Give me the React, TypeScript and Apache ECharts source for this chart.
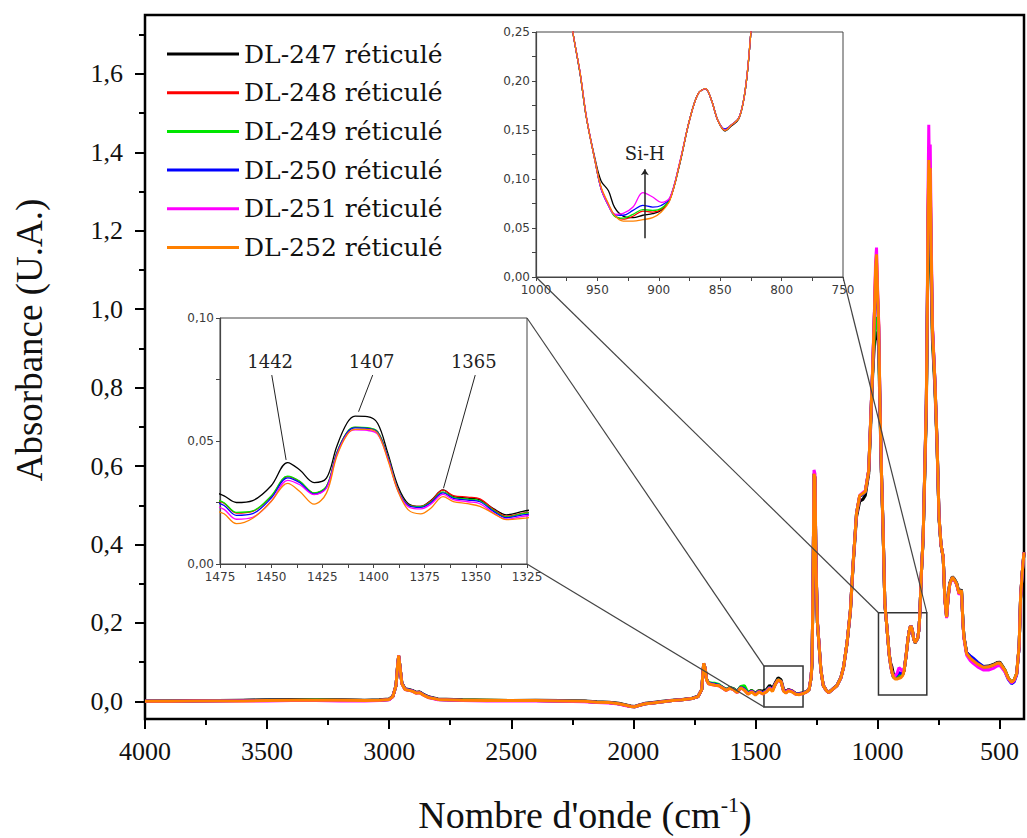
import React, { useEffect, useRef } from 'react';
import * as echarts from 'echarts';

const SERIES_NAMES = ['DL-247 réticulé', 'DL-248 réticulé', 'DL-249 réticulé', 'DL-250 réticulé', 'DL-251 réticulé', 'DL-252 réticulé'];
const SERIES_COLORS = ['#000000', '#ff0000', '#00e600', '#0000ff', '#ff00ff', '#ff8000'];

// Main spectrum wavenumbers (cm-1)
const MAIN_X = [4000, 3900, 3800, 3700, 3600, 3500, 3400, 3300, 3200, 3100,
  3040, 3000, 2985, 2972, 2965, 2961, 2956, 2948, 2935, 2920,
  2905, 2890, 2875, 2860, 2840, 2800, 2700, 2600, 2500, 2400,
  2300, 2200, 2150, 2100, 2060, 2030, 2010, 1995, 1975, 1950,
  1920, 1880, 1840, 1800, 1760, 1735, 1720, 1712, 1706, 1700,
  1692, 1680, 1665, 1650, 1635, 1620, 1605, 1590, 1575, 1560,
  1545, 1530, 1515, 1500, 1485, 1470, 1455, 1442, 1430, 1418,
  1407, 1395, 1385, 1375, 1365, 1350, 1335, 1320, 1305, 1290,
  1280, 1272, 1268, 1264, 1260, 1256, 1252, 1246, 1240, 1232,
  1222, 1210, 1200, 1185, 1166, 1150, 1139, 1125, 1111, 1100,
  1086, 1073, 1060, 1050, 1036, 1028, 1020, 1012, 1008, 1004,
  1000, 995, 990, 984, 977, 970, 964, 958, 952, 946,
  941, 935, 928, 920, 912, 904, 897, 891, 883, 875,
  868, 862, 857, 852, 846, 841, 835, 831, 828, 825,
  820, 813, 806, 800, 796, 793, 790, 787, 784, 780,
  775, 765, 756, 748, 740, 731, 724, 717, 710, 704,
  693, 685, 676, 666, 656, 650, 646, 635, 620, 608,
  590, 567, 545, 526, 510, 499, 490, 478, 465, 451,
  440, 430, 420, 414, 407, 400];

const MAIN_DL247 = [0.001, 0.001, 0.002, 0.002, 0.003, 0.004, 0.005, 0.005, 0.004, 0.003,
  0.004, 0.006, 0.013, 0.040, 0.093, 0.115, 0.090, 0.047, 0.032, 0.030,
  0.028, 0.023, 0.024, 0.018, 0.012, 0.006, 0.004, 0.003, 0.002, 0.003,
  0.002, 0.001, -0.001, -0.002, -0.005, -0.009, -0.012, -0.013, -0.009, -0.005,
  -0.003, 0.000, 0.003, 0.005, 0.008, 0.013, 0.030, 0.095, 0.084, 0.055,
  0.046, 0.044, 0.042, 0.041, 0.036, 0.030, 0.035, 0.032, 0.025, 0.037,
  0.031, 0.022, 0.028, 0.021, 0.028, 0.026, 0.030, 0.041, 0.033, 0.048,
  0.060, 0.055, 0.031, 0.024, 0.030, 0.026, 0.020, 0.020, 0.022, 0.025,
  0.031, 0.060, 0.100, 0.295, 0.575, 0.560, 0.345, 0.200, 0.150, 0.080,
  0.041, 0.029, 0.023, 0.031, 0.041, 0.061, 0.087, 0.146, 0.228, 0.345,
  0.470, 0.510, 0.515, 0.525, 0.580, 0.700, 0.830, 0.920, 0.940, 0.940,
  0.930, 0.900, 0.740, 0.580, 0.430, 0.250, 0.207, 0.163, 0.121, 0.097,
  0.088, 0.070, 0.062, 0.0605, 0.063, 0.0646, 0.068, 0.079, 0.115, 0.160,
  0.187, 0.192, 0.180, 0.160, 0.149, 0.154, 0.161, 0.180, 0.207, 0.250,
  0.330, 0.415, 0.590, 0.740, 0.980, 1.150, 1.250, 1.200, 1.240, 1.080,
  0.920, 0.800, 0.650, 0.465, 0.398, 0.366, 0.262, 0.218, 0.272, 0.302,
  0.318, 0.312, 0.302, 0.278, 0.285, 0.202, 0.166, 0.125, 0.113, 0.106,
  0.097, 0.089, 0.090, 0.094, 0.099, 0.100, 0.092, 0.080, 0.060, 0.048,
  0.054, 0.070, 0.138, 0.262, 0.328, 0.378];

const MAIN_DL248 = [0.000, 0.001, 0.001, 0.002, 0.002, 0.003, 0.003, 0.004, 0.003, 0.002,
  0.003, 0.005, 0.012, 0.040, 0.094, 0.116, 0.090, 0.046, 0.031, 0.029,
  0.027, 0.022, 0.023, 0.017, 0.011, 0.005, 0.003, 0.003, 0.002, 0.002,
  0.001, 0.000, -0.002, -0.003, -0.006, -0.010, -0.013, -0.014, -0.010, -0.006,
  -0.004, -0.001, 0.002, 0.004, 0.007, 0.012, 0.030, 0.096, 0.085, 0.056,
  0.046, 0.044, 0.043, 0.041, 0.035, 0.029, 0.034, 0.031, 0.024, 0.037,
  0.031, 0.020, 0.026, 0.019, 0.027, 0.022, 0.027, 0.035, 0.029, 0.045,
  0.055, 0.051, 0.028, 0.023, 0.030, 0.027, 0.020, 0.019, 0.021, 0.025,
  0.030, 0.060, 0.100, 0.300, 0.580, 0.570, 0.350, 0.200, 0.150, 0.080,
  0.040, 0.028, 0.022, 0.030, 0.040, 0.060, 0.087, 0.148, 0.232, 0.350,
  0.479, 0.523, 0.528, 0.534, 0.588, 0.716, 0.843, 1.000, 1.090, 1.120,
  1.040, 0.955, 0.760, 0.588, 0.436, 0.250, 0.207, 0.163, 0.119, 0.092,
  0.075, 0.062, 0.059, 0.062, 0.0673, 0.0663, 0.069, 0.079, 0.116, 0.160,
  0.187, 0.192, 0.180, 0.160, 0.150, 0.155, 0.162, 0.180, 0.207, 0.250,
  0.330, 0.418, 0.600, 0.760, 1.000, 1.240, 1.360, 1.290, 1.340, 1.140,
  0.950, 0.818, 0.657, 0.470, 0.400, 0.368, 0.260, 0.215, 0.270, 0.300,
  0.317, 0.310, 0.300, 0.275, 0.283, 0.200, 0.164, 0.122, 0.110, 0.104,
  0.095, 0.087, 0.088, 0.092, 0.097, 0.098, 0.090, 0.079, 0.060, 0.049,
  0.055, 0.071, 0.140, 0.266, 0.330, 0.380];

const MAIN_DL249 = [0.000, 0.001, 0.001, 0.002, 0.002, 0.003, 0.003, 0.004, 0.003, 0.002,
  0.003, 0.005, 0.012, 0.040, 0.094, 0.116, 0.090, 0.046, 0.031, 0.029,
  0.027, 0.022, 0.023, 0.017, 0.011, 0.005, 0.003, 0.003, 0.002, 0.002,
  0.001, 0.000, -0.002, -0.003, -0.006, -0.010, -0.013, -0.014, -0.010, -0.006,
  -0.004, -0.001, 0.002, 0.004, 0.007, 0.012, 0.030, 0.096, 0.086, 0.057,
  0.048, 0.047, 0.046, 0.043, 0.036, 0.030, 0.035, 0.032, 0.025, 0.038,
  0.040, 0.022, 0.027, 0.019, 0.027, 0.022, 0.027, 0.036, 0.029, 0.045,
  0.0555, 0.051, 0.028, 0.023, 0.029, 0.026, 0.020, 0.019, 0.021, 0.025,
  0.030, 0.060, 0.100, 0.300, 0.580, 0.570, 0.350, 0.200, 0.150, 0.080,
  0.040, 0.028, 0.022, 0.030, 0.040, 0.060, 0.087, 0.148, 0.232, 0.350,
  0.479, 0.523, 0.528, 0.534, 0.588, 0.716, 0.843, 0.950, 0.970, 0.980,
  0.950, 0.920, 0.750, 0.588, 0.436, 0.250, 0.207, 0.163, 0.119, 0.092,
  0.075, 0.062, 0.060, 0.064, 0.0687, 0.068, 0.070, 0.080, 0.116, 0.160,
  0.187, 0.192, 0.180, 0.160, 0.150, 0.155, 0.162, 0.180, 0.207, 0.250,
  0.330, 0.418, 0.600, 0.760, 0.990, 1.200, 1.320, 1.270, 1.300, 1.120,
  0.940, 0.815, 0.657, 0.470, 0.400, 0.368, 0.260, 0.215, 0.270, 0.300,
  0.317, 0.310, 0.300, 0.275, 0.283, 0.200, 0.164, 0.122, 0.110, 0.104,
  0.095, 0.087, 0.088, 0.092, 0.097, 0.098, 0.090, 0.079, 0.060, 0.049,
  0.055, 0.071, 0.140, 0.266, 0.330, 0.380];

const MAIN_DL250 = [0.000, 0.000, 0.001, 0.001, 0.002, 0.003, 0.003, 0.003, 0.003, 0.002,
  0.003, 0.005, 0.012, 0.040, 0.094, 0.116, 0.090, 0.046, 0.031, 0.029,
  0.027, 0.022, 0.023, 0.017, 0.011, 0.005, 0.003, 0.002, 0.002, 0.002,
  0.001, 0.000, -0.002, -0.003, -0.006, -0.010, -0.013, -0.014, -0.010, -0.006,
  -0.004, -0.001, 0.002, 0.004, 0.007, 0.012, 0.030, 0.096, 0.085, 0.056,
  0.046, 0.045, 0.043, 0.041, 0.035, 0.029, 0.034, 0.031, 0.024, 0.036,
  0.031, 0.020, 0.026, 0.018, 0.026, 0.021, 0.026, 0.035, 0.028, 0.045,
  0.055, 0.050, 0.028, 0.023, 0.029, 0.026, 0.019, 0.019, 0.021, 0.025,
  0.030, 0.060, 0.100, 0.300, 0.580, 0.570, 0.350, 0.200, 0.150, 0.080,
  0.040, 0.028, 0.022, 0.030, 0.040, 0.060, 0.087, 0.148, 0.232, 0.350,
  0.479, 0.523, 0.528, 0.534, 0.588, 0.716, 0.843, 1.000, 1.070, 1.100,
  1.030, 0.950, 0.760, 0.588, 0.436, 0.250, 0.207, 0.163, 0.119, 0.092,
  0.075, 0.064, 0.063, 0.068, 0.0731, 0.0714, 0.073, 0.080, 0.116, 0.160,
  0.187, 0.192, 0.180, 0.160, 0.151, 0.155, 0.162, 0.180, 0.207, 0.250,
  0.330, 0.418, 0.600, 0.760, 1.000, 1.230, 1.340, 1.280, 1.320, 1.130,
  0.950, 0.818, 0.657, 0.470, 0.400, 0.368, 0.260, 0.215, 0.270, 0.300,
  0.317, 0.310, 0.300, 0.275, 0.283, 0.200, 0.164, 0.124, 0.116, 0.110,
  0.100, 0.089, 0.088, 0.092, 0.097, 0.098, 0.089, 0.076, 0.057, 0.045,
  0.050, 0.068, 0.138, 0.264, 0.330, 0.380];

const MAIN_DL251 = [0.000, 0.000, 0.001, 0.001, 0.001, 0.001, 0.002, 0.002, 0.001, 0.001,
  0.002, 0.004, 0.012, 0.040, 0.094, 0.117, 0.090, 0.045, 0.030, 0.028,
  0.026, 0.021, 0.022, 0.016, 0.010, 0.004, 0.002, 0.001, 0.001, 0.001,
  0.000, -0.001, -0.003, -0.004, -0.007, -0.011, -0.013, -0.014, -0.010, -0.006,
  -0.004, -0.001, 0.002, 0.004, 0.007, 0.012, 0.030, 0.096, 0.085, 0.055,
  0.045, 0.043, 0.041, 0.040, 0.034, 0.028, 0.033, 0.030, 0.022, 0.034,
  0.029, 0.019, 0.025, 0.017, 0.025, 0.019, 0.025, 0.034, 0.028, 0.044,
  0.054, 0.050, 0.027, 0.022, 0.028, 0.025, 0.018, 0.018, 0.020, 0.024,
  0.031, 0.062, 0.105, 0.310, 0.590, 0.580, 0.360, 0.205, 0.152, 0.080,
  0.040, 0.028, 0.022, 0.030, 0.040, 0.060, 0.087, 0.148, 0.232, 0.350,
  0.479, 0.525, 0.532, 0.537, 0.590, 0.720, 0.850, 1.010, 1.120, 1.157,
  1.060, 0.965, 0.765, 0.590, 0.438, 0.250, 0.207, 0.163, 0.119, 0.092,
  0.073, 0.064, 0.065, 0.0714, 0.086, 0.0816, 0.0762, 0.081, 0.117, 0.160,
  0.187, 0.192, 0.180, 0.160, 0.150, 0.155, 0.162, 0.180, 0.207, 0.250,
  0.330, 0.420, 0.605, 0.770, 1.020, 1.300, 1.470, 1.330, 1.420, 1.180,
  0.960, 0.820, 0.657, 0.470, 0.400, 0.368, 0.258, 0.212, 0.268, 0.298,
  0.315, 0.308, 0.298, 0.272, 0.280, 0.196, 0.160, 0.118, 0.104, 0.097,
  0.088, 0.080, 0.080, 0.084, 0.090, 0.092, 0.085, 0.075, 0.058, 0.047,
  0.053, 0.069, 0.140, 0.266, 0.330, 0.380];

const MAIN_DL252 = [0.000, 0.000, 0.001, 0.001, 0.001, 0.002, 0.003, 0.003, 0.003, 0.002,
  0.003, 0.005, 0.012, 0.040, 0.095, 0.117, 0.090, 0.045, 0.030, 0.028,
  0.026, 0.021, 0.022, 0.016, 0.010, 0.005, 0.003, 0.002, 0.002, 0.002,
  0.001, 0.000, -0.002, -0.003, -0.006, -0.010, -0.013, -0.014, -0.010, -0.006,
  -0.004, -0.001, 0.002, 0.004, 0.007, 0.012, 0.030, 0.097, 0.085, 0.055,
  0.045, 0.043, 0.041, 0.040, 0.034, 0.028, 0.033, 0.030, 0.022, 0.035,
  0.028, 0.018, 0.024, 0.016, 0.024, 0.019, 0.024, 0.033, 0.025, 0.044,
  0.055, 0.050, 0.026, 0.021, 0.027, 0.024, 0.018, 0.017, 0.020, 0.024,
  0.030, 0.060, 0.100, 0.300, 0.580, 0.570, 0.350, 0.200, 0.150, 0.080,
  0.040, 0.028, 0.022, 0.030, 0.040, 0.060, 0.087, 0.148, 0.232, 0.350,
  0.479, 0.525, 0.530, 0.535, 0.588, 0.716, 0.843, 1.000, 1.100, 1.140,
  1.050, 0.960, 0.760, 0.588, 0.436, 0.250, 0.207, 0.163, 0.119, 0.092,
  0.075, 0.063, 0.057, 0.057, 0.0585, 0.0605, 0.066, 0.078, 0.116, 0.160,
  0.187, 0.192, 0.180, 0.160, 0.150, 0.155, 0.162, 0.180, 0.207, 0.250,
  0.330, 0.418, 0.600, 0.760, 1.000, 1.250, 1.380, 1.300, 1.360, 1.150,
  0.950, 0.818, 0.657, 0.470, 0.400, 0.368, 0.260, 0.215, 0.270, 0.300,
  0.317, 0.310, 0.300, 0.275, 0.283, 0.200, 0.164, 0.122, 0.110, 0.104,
  0.095, 0.087, 0.088, 0.092, 0.097, 0.098, 0.090, 0.079, 0.060, 0.049,
  0.055, 0.071, 0.140, 0.266, 0.330, 0.380];

// Inset 1: 1475 - 1325 cm-1
const INSET1_X = [1477, 1473, 1467, 1459, 1450, 1442, 1436, 1429, 1423, 1418, 1413, 1409, 1403, 1398, 1393, 1388, 1383, 1377, 1372, 1366, 1361, 1354, 1348, 1341, 1335, 1327, 1323];
const INSET1_DL247 = [0.029, 0.0277, 0.025, 0.0258, 0.0318, 0.0412, 0.0382, 0.0331, 0.0349, 0.0477, 0.0572, 0.0601, 0.0599, 0.0572, 0.045, 0.0315, 0.0245, 0.0234, 0.0258, 0.0301, 0.0274, 0.0268, 0.0261, 0.0223, 0.020, 0.0214, 0.022];
const INSET1_DL248 = [0.026, 0.0247, 0.0207, 0.0214, 0.0274, 0.0355, 0.0335, 0.0288, 0.0315, 0.045, 0.0534, 0.0555, 0.0553, 0.0538, 0.0436, 0.0301, 0.0241, 0.0234, 0.0256, 0.0300, 0.0278, 0.0272, 0.0265, 0.0220, 0.0194, 0.0207, 0.021];
const INSET1_DL249 = [0.0262, 0.0249, 0.021, 0.0216, 0.0277, 0.0357, 0.0336, 0.0289, 0.0316, 0.0451, 0.0535, 0.0556, 0.0554, 0.0538, 0.0437, 0.0302, 0.024, 0.0233, 0.0252, 0.0293, 0.0271, 0.0264, 0.0257, 0.0216, 0.0191, 0.0205, 0.0208];
const INSET1_DL250 = [0.025, 0.0238, 0.0198, 0.0205, 0.0268, 0.035, 0.033, 0.0284, 0.0311, 0.0447, 0.0532, 0.0553, 0.0551, 0.0535, 0.0433, 0.030, 0.0238, 0.023, 0.0249, 0.0289, 0.0267, 0.026, 0.0253, 0.0212, 0.0188, 0.020, 0.0204];
const INSET1_DL251 = [0.0235, 0.0222, 0.0182, 0.019, 0.0255, 0.034, 0.0322, 0.0282, 0.0308, 0.0442, 0.0527, 0.0545, 0.0543, 0.0528, 0.0428, 0.0297, 0.0233, 0.0224, 0.0243, 0.0283, 0.0262, 0.0253, 0.0245, 0.0205, 0.0182, 0.0194, 0.0198];
const INSET1_DL252 = [0.0215, 0.0204, 0.0164, 0.0186, 0.0254, 0.0328, 0.0295, 0.0243, 0.0288, 0.0436, 0.0524, 0.0547, 0.0547, 0.0531, 0.0423, 0.0295, 0.022, 0.0204, 0.0227, 0.0274, 0.0254, 0.0245, 0.0234, 0.0204, 0.018, 0.0186, 0.019];

// Inset 2: 1000 - 750 cm-1
const INSET2_X = [978, 970, 964, 959, 952, 947, 941, 936, 929, 921, 913, 905, 898, 891, 883, 875, 868, 862, 857, 852, 846, 841, 835, 831, 828, 825, 820];
const INSET2_DL247 = [0.32, 0.25, 0.207, 0.163, 0.121, 0.098, 0.088, 0.071, 0.062, 0.0605, 0.063, 0.0646, 0.068, 0.079, 0.115, 0.16, 0.187, 0.192, 0.18, 0.16, 0.149, 0.154, 0.161, 0.18, 0.207, 0.25, 0.33];
const INSET2_DL248 = [0.32, 0.25, 0.207, 0.163, 0.119, 0.091, 0.074, 0.063, 0.059, 0.062, 0.0673, 0.0663, 0.069, 0.079, 0.116, 0.16, 0.187, 0.192, 0.18, 0.16, 0.150, 0.155, 0.162, 0.18, 0.207, 0.25, 0.33];
const INSET2_DL249 = [0.32, 0.25, 0.207, 0.163, 0.119, 0.090, 0.073, 0.062, 0.060, 0.064, 0.0687, 0.068, 0.070, 0.080, 0.116, 0.16, 0.187, 0.192, 0.18, 0.16, 0.150, 0.155, 0.162, 0.18, 0.207, 0.25, 0.33];
const INSET2_DL250 = [0.32, 0.25, 0.207, 0.163, 0.119, 0.090, 0.073, 0.064, 0.063, 0.068, 0.0731, 0.0714, 0.073, 0.080, 0.116, 0.16, 0.187, 0.192, 0.18, 0.16, 0.151, 0.155, 0.162, 0.18, 0.207, 0.25, 0.33];
const INSET2_DL251 = [0.32, 0.25, 0.208, 0.164, 0.119, 0.090, 0.073, 0.064, 0.065, 0.0714, 0.086, 0.0816, 0.0762, 0.081, 0.117, 0.16, 0.187, 0.192, 0.18, 0.16, 0.150, 0.155, 0.162, 0.18, 0.208, 0.25, 0.33];
const INSET2_DL252 = [0.32, 0.25, 0.2075, 0.163, 0.119, 0.0918, 0.0748, 0.0629, 0.0571, 0.0571, 0.0585, 0.0605, 0.0663, 0.0782, 0.1156, 0.16, 0.187, 0.1922, 0.18, 0.16, 0.1497, 0.1548, 0.1616, 0.18, 0.2075, 0.25, 0.33];

const MAIN_SERIES = [MAIN_DL247, MAIN_DL248, MAIN_DL249, MAIN_DL250, MAIN_DL251, MAIN_DL252];
const INSET1_SERIES = [INSET1_DL247, INSET1_DL248, INSET1_DL249, INSET1_DL250, INSET1_DL251, INSET1_DL252];
const INSET2_SERIES = [INSET2_DL247, INSET2_DL248, INSET2_DL249, INSET2_DL250, INSET2_DL251, INSET2_DL252];

// Tick values
const MAIN_X_LABELS = [4000, 3500, 3000, 2500, 2000, 1500, 1000, 500];
const MAIN_X_MINOR = [3750, 3250, 2750, 2250, 1750, 1250, 750];
const MAIN_Y_LABELS = [0, 0.2, 0.4, 0.6, 0.8, 1.0, 1.2, 1.4, 1.6];
const MAIN_Y_MINOR = [0.1, 0.3, 0.5, 0.7, 0.9, 1.1, 1.3, 1.5, 1.7];

// Zoom boxes in main-chart coordinates (wavenumber, absorbance)
const ZOOM_BOXES = [
  { x0: 1465, x1: 1305, y0: -0.0145, y1: 0.09 },
  { x0: 996, x1: 798, y0: 0.016, y1: 0.226 },
];

// Peak annotations in inset-1 coordinates
const PEAK_ANNOTATIONS = [
  { text: '1442', tx: 1450.5, ty: 0.0822, x0: 1449.7, y0: 0.0768, x1: 1442.7, y1: 0.0423 },
  { text: '1407', tx: 1400.9, ty: 0.0822, x0: 1400.4, y0: 0.0768, x1: 1407.3, y1: 0.0619 },
  { text: '1365', tx: 1351, ty: 0.0822, x0: 1350.3, y0: 0.0768, x1: 1365.8, y1: 0.0308 },
];
// Si-H arrow in inset-2 coordinates
const SIH_ANNOTATION = { text: 'Si-H', tx: 911.4, ty: 0.126, x: 911.4, y0: 0.0395, y1: 0.11 };

const comma = (v: number, d: number) => v.toFixed(d).replace('.', ',');
const isMult = (v: number, step: number) => Math.abs(v / step - Math.round(v / step)) < 1e-6;

export default function App() {
  const ref = useRef<HTMLDivElement>(null);

  useEffect(() => {
    if (!ref.current) return;
    const chart = echarts.init(ref.current, undefined, { renderer: 'svg' });

    const insetAxisLine = { show: true, lineStyle: { color: '#444', width: 1.2 } };
    const insetLabel = { fontFamily: 'DejaVu Sans', fontSize: 12, color: '#3a3a3a' };

    const series: any[] = [];
    SERIES_NAMES.forEach((name, i) => {
      const s: any = {
        type: 'line', name, xAxisIndex: 0, yAxisIndex: 0,
        data: MAIN_X.map((x, j) => [x, MAIN_SERIES[i][j]]),
        symbol: 'none', silent: true, clip: true,
        lineStyle: { width: 3, color: SERIES_COLORS[i] },
        itemStyle: { color: SERIES_COLORS[i] },
        emphasis: { disabled: true },
      };
      if (i === 5) {
        s.markArea = {
          silent: true,
          itemStyle: { color: 'rgba(0,0,0,0)', borderColor: '#333', borderWidth: 1.5 },
          label: { show: false },
          data: ZOOM_BOXES.map((b) => [{ coord: [b.x0, b.y1] }, { coord: [b.x1, b.y0] }]),
        };
      }
      series.push(s);
    });
    SERIES_NAMES.forEach((name, i) => {
      const s: any = {
        type: 'line', name, xAxisIndex: 2, yAxisIndex: 2,
        data: INSET1_X.map((x, j) => [x, INSET1_SERIES[i][j]]),
        symbol: 'none', silent: true, clip: true, smooth: 0.35,
        lineStyle: { width: 1.3, color: SERIES_COLORS[i] },
        itemStyle: { color: SERIES_COLORS[i] },
        emphasis: { disabled: true },
      };
      if (i === 0) {
        s.markLine = {
          silent: true, symbol: ['none', 'none'],
          label: { show: false },
          lineStyle: { color: '#222', width: 1, type: 'solid' },
          emphasis: { disabled: true },
          data: PEAK_ANNOTATIONS.map((a) => [{ coord: [a.x0, a.y0] }, { coord: [a.x1, a.y1] }]),
        };
      }
      series.push(s);
    });
    SERIES_NAMES.forEach((name, i) => {
      const s: any = {
        type: 'line', name, xAxisIndex: 3, yAxisIndex: 3,
        data: INSET2_X.map((x, j) => [x, INSET2_SERIES[i][j]]),
        symbol: 'none', silent: true, clip: true, smooth: 0.35,
        lineStyle: { width: 1.3, color: SERIES_COLORS[i] },
        itemStyle: { color: SERIES_COLORS[i] },
        emphasis: { disabled: true },
      };
      if (i === 0) {
        s.markLine = {
          silent: true, symbol: ['none', 'arrow'], symbolSize: 6,
          label: { show: false },
          lineStyle: { color: '#222', width: 1.5, type: 'solid' },
          emphasis: { disabled: true },
          data: [[{ coord: [SIH_ANNOTATION.x, SIH_ANNOTATION.y0] }, { coord: [SIH_ANNOTATION.x, SIH_ANNOTATION.y1] }]],
        };
      }
      series.push(s);
    });

    const option: any = {
      animation: false,
      backgroundColor: '#fff',
      grid: [
        { left: 145, right: 3, top: 15, bottom: 119, show: true, borderColor: '#000', borderWidth: 2.5, backgroundColor: 'rgba(0,0,0,0)' },
        { left: 220, top: 318, width: 307, height: 246, show: true, borderColor: '#444', borderWidth: 1, backgroundColor: '#fff' },
        { left: 536, top: 32, width: 307, height: 245, show: true, borderColor: '#444', borderWidth: 1, backgroundColor: '#fff' },
      ],
      xAxis: [
        {
          type: 'value', gridIndex: 0, min: 400, max: 4000, inverse: true, position: 'bottom',
          axisLine: { show: true, onZero: false, lineStyle: { color: '#000', width: 2 } },
          axisTick: { show: true, customValues: MAIN_X_LABELS, length: 10, lineStyle: { color: '#000', width: 2 } },
          axisLabel: { customValues: MAIN_X_LABELS, formatter: (v: number) => String(v), fontFamily: 'Liberation Serif', fontSize: 26, color: '#111', margin: 19 },
          splitLine: { show: false },
        },
        {
          type: 'value', gridIndex: 0, min: 400, max: 4000, inverse: true, position: 'bottom',
          axisLine: { show: false, onZero: false },
          axisTick: { show: true, customValues: MAIN_X_MINOR, length: 6, lineStyle: { color: '#000', width: 2 } },
          axisLabel: { show: false },
          splitLine: { show: false },
        },
        {
          type: 'value', gridIndex: 1, min: 1325, max: 1475, interval: 12.5, inverse: true,
          axisLine: { ...insetAxisLine, onZero: false },
          axisTick: { show: true, length: 4, lineStyle: { color: '#444' } },
          axisLabel: { ...insetLabel, margin: 7, formatter: (v: number) => (isMult(v, 25) ? String(Math.round(v)) : '') },
          splitLine: { show: false },
        },
        {
          type: 'value', gridIndex: 2, min: 750, max: 1000, interval: 25, inverse: true,
          axisLine: { ...insetAxisLine, onZero: false },
          axisTick: { show: true, length: 4, lineStyle: { color: '#444' } },
          axisLabel: { ...insetLabel, margin: 7, formatter: (v: number) => (isMult(v, 50) ? String(Math.round(v)) : '') },
          splitLine: { show: false },
        },
      ],
      yAxis: [
        {
          type: 'value', gridIndex: 0, min: -0.045, max: 1.75, position: 'left',
          axisLine: { show: true, onZero: false, lineStyle: { color: '#000', width: 2 } },
          axisTick: { show: true, customValues: MAIN_Y_LABELS, length: 10, lineStyle: { color: '#000', width: 2 } },
          axisLabel: { customValues: MAIN_Y_LABELS, formatter: (v: number) => comma(v, 1), fontFamily: 'Liberation Serif', fontSize: 26, color: '#111', margin: 22 },
          splitLine: { show: false },
        },
        {
          type: 'value', gridIndex: 0, min: -0.045, max: 1.75, position: 'left',
          axisLine: { show: false, onZero: false },
          axisTick: { show: true, customValues: MAIN_Y_MINOR, length: 6, lineStyle: { color: '#000', width: 2 } },
          axisLabel: { show: false },
          splitLine: { show: false },
        },
        {
          type: 'value', gridIndex: 1, min: 0, max: 0.1, interval: 0.025,
          axisLine: { ...insetAxisLine, onZero: false },
          axisTick: { show: true, length: 4, lineStyle: { color: '#444' } },
          axisLabel: { ...insetLabel, margin: 6, formatter: (v: number) => (isMult(v, 0.05) ? comma(v, 2) : '') },
          splitLine: { show: false },
        },
        {
          type: 'value', gridIndex: 2, min: 0, max: 0.25, interval: 0.025,
          axisLine: { ...insetAxisLine, onZero: false },
          axisTick: { show: true, length: 4, lineStyle: { color: '#444' } },
          axisLabel: { ...insetLabel, margin: 6, formatter: (v: number) => (isMult(v, 0.05) ? comma(v, 2) : '') },
          splitLine: { show: false },
        },
      ],
      legend: {
        data: SERIES_NAMES.map((n) => ({ name: n, icon: 'rect' })),
        orient: 'vertical', left: 167, top: 40, padding: 0,
        itemWidth: 72, itemHeight: 3, itemGap: 10.7,
        selectedMode: false,
        textStyle: { fontFamily: 'DejaVu Serif', fontSize: 25, color: '#111', lineHeight: 28 },
      },
      series,
    };

    chart.setOption(option);

    const px = (idx: number, p: number[]) => chart.convertToPixel({ xAxisIndex: idx, yAxisIndex: idx }, p) as number[];
    const b1 = ZOOM_BOXES[0];
    const b2 = ZOOM_BOXES[1];
    const connectors = [
      [px(0, [b1.x0, b1.y1]), px(2, [1325, 0.1])],
      [px(0, [b1.x0, b1.y0]), px(2, [1325, 0])],
      [px(0, [b2.x0, b2.y1]), px(3, [1000, 0])],
      [px(0, [b2.x1, b2.y1]), px(3, [750, 0])],
    ];
    const graphic: any[] = connectors.map(([a, b]) => ({
      type: 'line', silent: true, z: 10,
      shape: { x1: a[0], y1: a[1], x2: b[0], y2: b[1] },
      style: { stroke: '#444', lineWidth: 1.2 },
    }));
    PEAK_ANNOTATIONS.forEach((a) => {
      const p = px(2, [a.tx, a.ty]);
      graphic.push({
        type: 'text', x: p[0], y: p[1], z: 10, silent: true,
        style: { text: a.text, fontFamily: 'DejaVu Serif', fontSize: 18, fill: '#222', align: 'center', verticalAlign: 'middle' },
      });
    });
    {
      const p = px(3, [SIH_ANNOTATION.tx, SIH_ANNOTATION.ty]);
      graphic.push({
        type: 'text', x: p[0], y: p[1], z: 10, silent: true,
        style: { text: SIH_ANNOTATION.text, fontFamily: 'DejaVu Serif', fontSize: 18, fill: '#222', align: 'center', verticalAlign: 'middle' },
      });
    }
    graphic.push({
      type: 'text', x: 29, y: 340, rotation: Math.PI / 2, silent: true,
      style: { text: 'Absorbance (U.A.)', fontFamily: 'Liberation Serif', fontSize: 37, fill: '#111', align: 'center', verticalAlign: 'middle' },
    });
    graphic.push({
      type: 'text', x: 585, y: 815, silent: true,
      style: {
        text: "{t|Nombre d'onde (cm}{s|-1}{t|)}",
        align: 'center', verticalAlign: 'middle',
        rich: {
          t: { fontFamily: 'Liberation Serif', fontSize: 38, fill: '#111', color: '#111', lineHeight: 44 },
          s: { fontFamily: 'Liberation Serif', fontSize: 22, fill: '#111', color: '#111', lineHeight: 26, verticalAlign: 'top' },
        },
      },
    });
    chart.setOption({ graphic });

    return () => chart.dispose();
  }, []);

  return <div ref={ref} style={{ position: 'absolute', left: 0, top: 0, width: 1027, height: 838 }} />;
}
